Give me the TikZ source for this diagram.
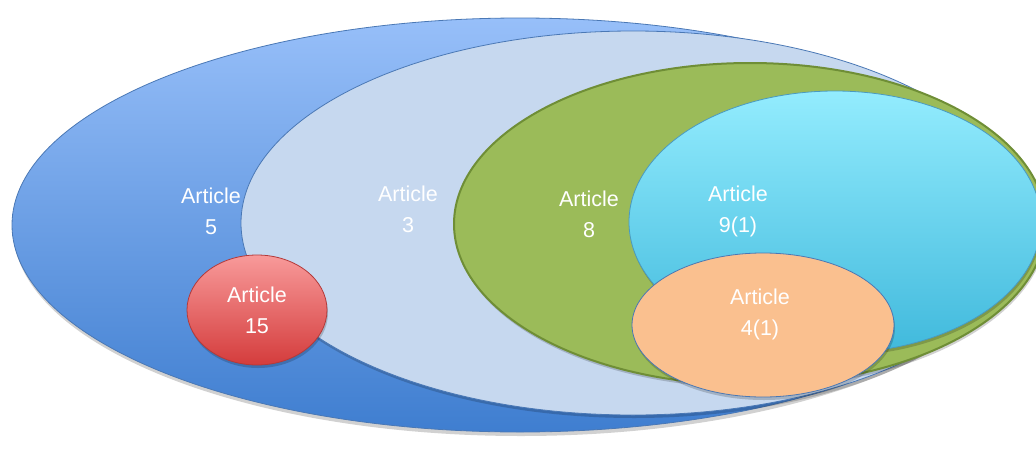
\documentclass[tikz,border=0pt]{standalone}
\usepackage{fontspec}
\setmainfont{Liberation Sans}
\definecolor{bluetop}{HTML}{97BFF9}
\definecolor{bluebot}{HTML}{3F7ED0}
\definecolor{blueline}{HTML}{4A78B5}
\definecolor{lightblue}{HTML}{C6D8EF}
\definecolor{greenfill}{HTML}{9BBB59}
\definecolor{greenline}{HTML}{6F8E36}
\definecolor{cyantop}{HTML}{93ECFE}
\definecolor{cyanbot}{HTML}{40B9DC}
\definecolor{cyanline}{HTML}{4A9AC0}
\definecolor{orangefill}{HTML}{FAC08F}
\definecolor{redtop}{HTML}{F89A9A}
\definecolor{redbot}{HTML}{D43C3C}
\definecolor{redline}{HTML}{B33A3A}
\tikzset{
  lbl/.style={text=white, font=\fontsize{21.5}{31}\selectfont, align=center, inner sep=0pt},
  shade/.style={fill=black, opacity=0.18},
}
\begin{document}
\begin{tikzpicture}[x=1pt,y=-1pt]
\useasboundingbox (0,0) rectangle (1036,450);
\fill[white] (0,0) rectangle (1036,450);
\begin{scope}
\clip (0,0) rectangle (1036,450);
% outer blue
\fill[shade] (521,229) ellipse (508 and 207);
\draw[blueline, line width=0.8pt, top color=bluetop, bottom color=bluebot] (520,225) ellipse (508 and 207);
% light blue
\fill[shade] (634,226) ellipse (392 and 192);
\draw[blueline, line width=0.8pt, fill=lightblue] (633,223) ellipse (392 and 192);
% red
\fill[shade] (258,313) ellipse (70 and 55);
\draw[redline, line width=0.8pt, top color=redtop, bottom color=redbot] (257,310) ellipse (70 and 55);
% green
\fill[shade] (751,227) ellipse (296 and 161);
\draw[greenline, line width=2pt, fill=greenfill] (750,224) ellipse (296 and 161);
% cyan
\fill[shade] (836,225) ellipse (206 and 131);
\draw[cyanline, line width=0.8pt, top color=cyantop, bottom color=cyanbot] (835,222) ellipse (206 and 131);
% orange
\fill[shade] (764,328) ellipse (131 and 72);
\draw[blueline, line width=0.8pt, fill=orangefill] (763,325) ellipse (131 and 72);
\end{scope}
\node[lbl] (a5) at (211,211) {Article\\5};
\node[lbl] (a3) at (408,209) {Article\\3};
\node[lbl] (a8) at (589,214) {Article\\8};
\node[lbl] (a9) at (738,211) {Article\\9(1)};
\node[lbl] (a4) at (760,314) {Article\\4(1)};
\node[lbl] (a15) at (257,310) {Article\\15};
\end{tikzpicture}
\end{document}
